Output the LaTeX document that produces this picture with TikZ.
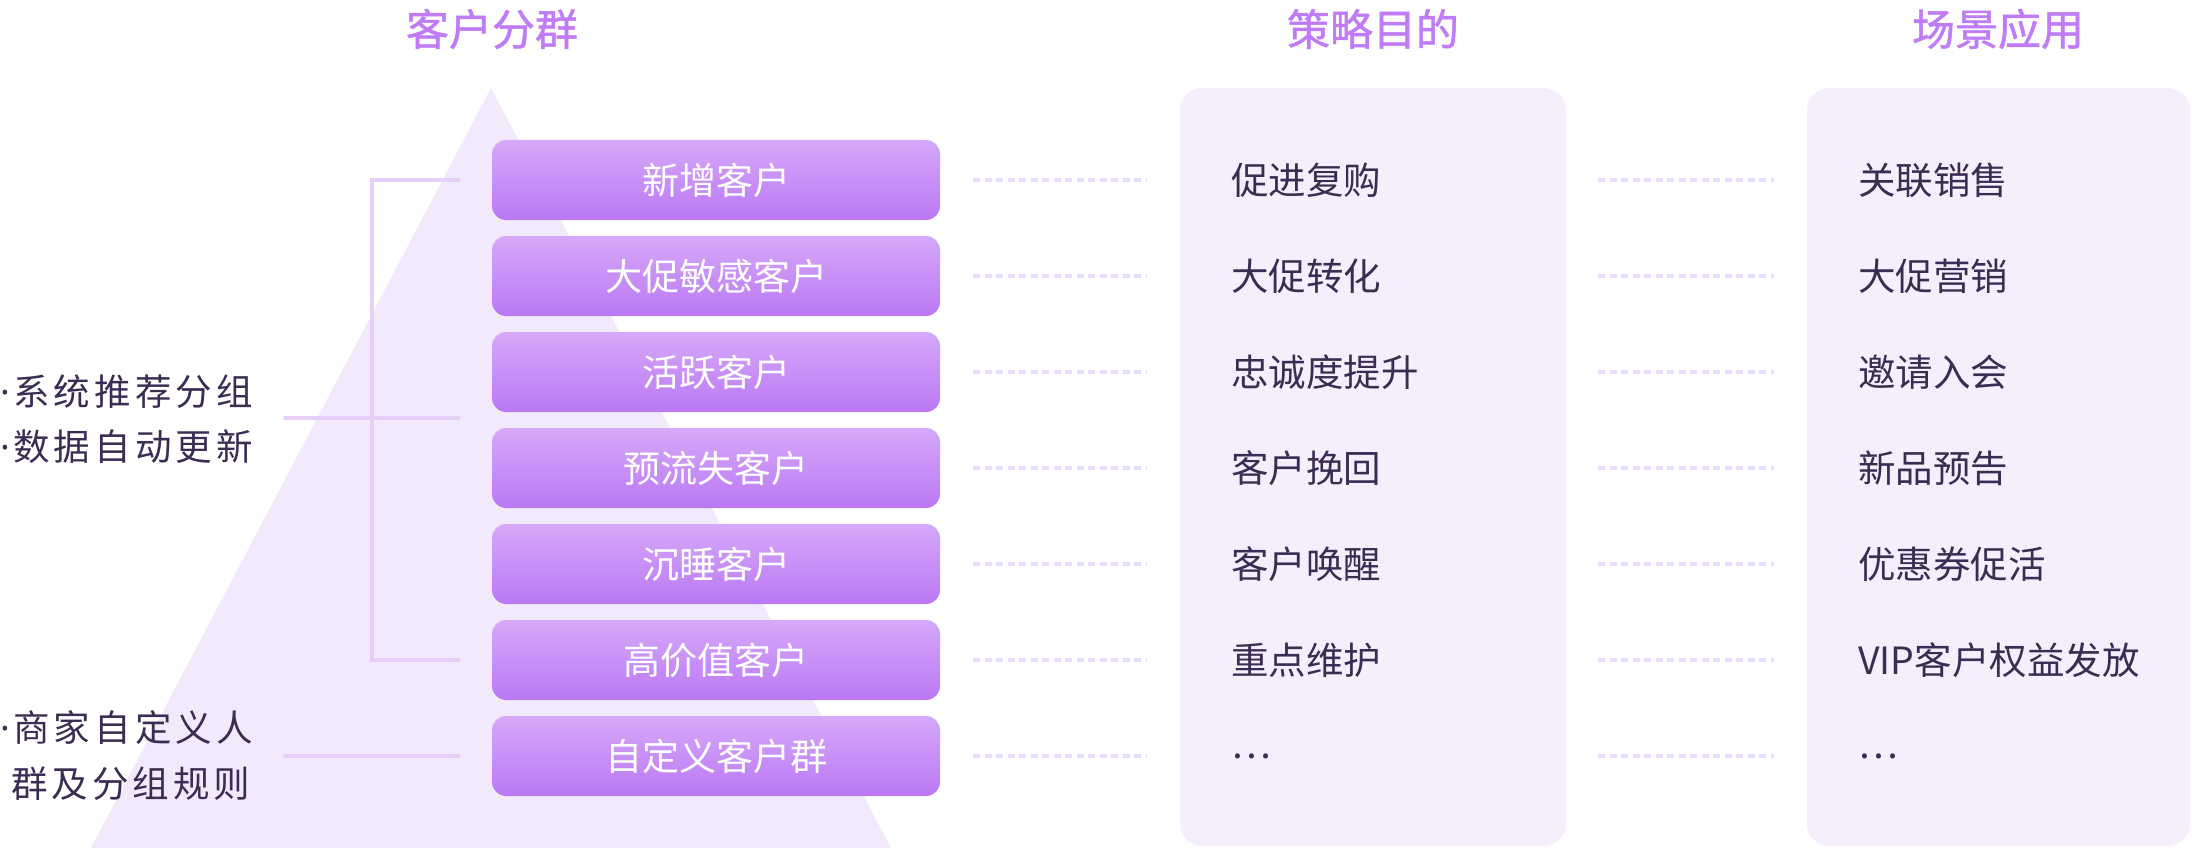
\documentclass[tikz,border=0pt]{standalone}
\usepackage{fontspec}
\setmainfont{Noto Sans CJK SC}
\newfontfamily\titlefont[FakeBold=1.2]{Noto Sans CJK SC}
\newfontfamily\sidefont[LetterSpace=11]{Noto Sans CJK SC}
\newfontfamily\latinfont{Noto Sans}
\usetikzlibrary{calc}
\definecolor{titlec}{HTML}{C07CF6}
\definecolor{tri}{HTML}{F2E9FC}
\definecolor{boxtop}{HTML}{D6A9F9}
\definecolor{boxbot}{HTML}{BA78F4}
\definecolor{brk}{HTML}{E6D0FA}
\definecolor{panelc}{HTML}{F5EFFD}
\definecolor{dotc}{HTML}{EADCFB}
\definecolor{txt}{HTML}{3A2C52}
\newcommand{\dotb}{{\latinfont ·}\kern3pt}
\begin{document}
\begin{tikzpicture}[x=1pt,y=-1pt,
  pill/.style={rounded corners=14pt, minimum width=448pt, minimum height=80pt, top color=boxtop, bottom color=boxbot, draw=none, text=white, font=\fontsize{37}{40}\selectfont, inner sep=0pt},
  item/.style={anchor=west, text=txt, font=\fontsize{37.5}{40}\selectfont, inner sep=0pt},
  ttl/.style={text=titlec, font=\titlefont\fontsize{43}{48}\selectfont, inner sep=0pt},
  dotline/.style={draw=dotc, line width=4pt, dash pattern=on 7pt off 4.5pt},
  brkline/.style={draw=brk, line width=4pt, line cap=round},
  side/.style={anchor=west, text=txt, font=\sidefont\fontsize{36.5}{44}\selectfont, inner sep=0pt},
  panelbox/.style={fill=panelc, rounded corners=22pt, inner sep=0pt, minimum height=758pt}
]
\useasboundingbox (0,0) rectangle (2192,848);
% triangle
\fill[tri] (491,88) -- (91,848) -- (891,848) -- cycle;
% titles
\node[ttl] (t1) at (492,29) {客户分群};
\node[ttl] (t2) at (1373,29) {策略目的};
\node[ttl] (t3) at (1998,29) {场景应用};
% panels
\node[panelbox, minimum width=386pt] (P1) at (1373,467) {};
\node[panelbox, minimum width=383pt] (P2) at (1998.5,467) {};
% boxes and items
\foreach \i/\b/\s/\a in {1/新增客户/促进复购/关联销售,
                         2/大促敏感客户/大促转化/大促营销,
                         3/活跃客户/忠诚度提升/邀请入会,
                         4/预流失客户/客户挽回/新品预告,
                         5/沉睡客户/客户唤醒/优惠券促活,
                         6/高价值客户/重点维护/VIP客户权益发放,
                         7/自定义客户群/…/…}{
  \pgfmathsetmacro{\yy}{180+96*(\i-1)}
  \node[pill] (b\i) at (716,\yy) {\b};
  \node[item] (s\i) at (1231,\yy) {\s};
  \node[item] (a\i) at (1858,\yy) {\a};
  \draw[dotline] ($(b\i.east)+(33,0)$) -- ($(P1.west |- b\i.east)+(-33,0)$);
  \draw[dotline] ($(P1.east |- b\i.east)+(32,0)$) -- ($(P2.west |- b\i.east)+(-33,0)$);
}
% bracket
\coordinate (bv) at (372,418);
\coordinate (m1) at (285,418);
\coordinate (m2) at (285,756);
\draw[brkline] ($(b1.west)+(-33,0)$) -- (bv |- b1.west) -- (bv |- b6.west) -- ($(b6.west)+(-33,0)$);
\draw[brkline] (m1) -- ($(b1.west |- m1)+(-33,0)$);
\draw[brkline] (m2) -- ($(b7.west)+(-33,0)$);
% side texts
\node[side] (l1) at (0.5,392) {\dotb 系统推荐分组};
\node[side] (l2) at (0.5,447) {\dotb 数据自动更新};
\node[side] (l3) at (0.5,728) {\dotb 商家自定义人};
\node[side] (l4) at (11,784) {群及分组规则};
\end{tikzpicture}
\end{document}
